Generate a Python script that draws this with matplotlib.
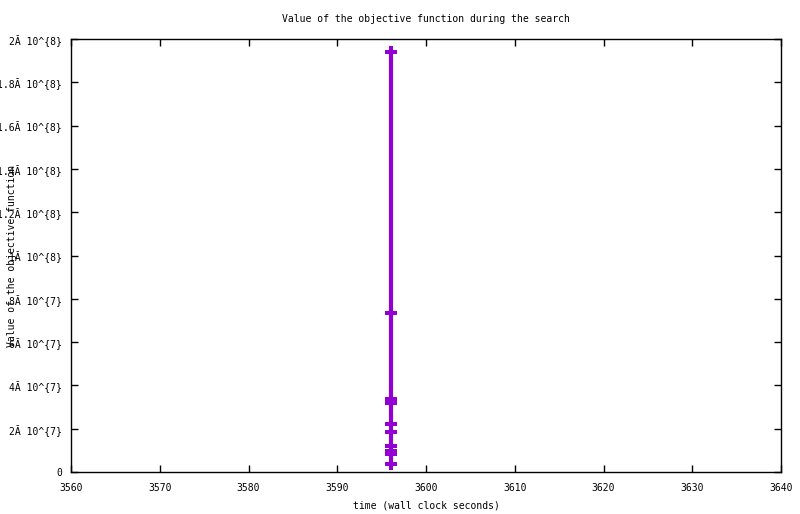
import matplotlib
matplotlib.use("Agg")
import matplotlib.pyplot as plt
from matplotlib.ticker import FixedLocator, FixedFormatter

# Data (time in wall clock seconds, objective value)
times = [3596.1, 3596.1, 3596.1, 3596.1, 3596.1, 3596.1, 3596.1, 3596.1, 3596.1, 3596.1]
values = [1.94e8, 7.34e7, 3.37e7, 3.19e7, 2.22e7, 1.85e7, 1.20e7, 9.7e6, 8.3e6, 3.7e6]

x_ticks = [3560, 3570, 3580, 3590, 3600, 3610, 3620, 3630, 3640]
y_ticks = [0, 2e7, 4e7, 6e7, 8e7, 1e8, 1.2e8, 1.4e8, 1.6e8, 1.8e8, 2e8]
y_tick_labels = ["0", "2Ă 10^{7}", "4Ă 10^{7}", "6Ă 10^{7}", "8Ă 10^{7}",
                 "1Ă 10^{8}", "1.2Ă 10^{8}", "1.4Ă 10^{8}", "1.6Ă 10^{8}",
                 "1.8Ă 10^{8}", "2Ă 10^{8}"]

title = "Value of the objective function during the search"
xlabel = "time (wall clock seconds)"
ylabel = "Value of the objective function"

plt.rcParams['font.family'] = ['DejaVu Sans Mono', 'DejaVu Sans']
FS = 7

fig = plt.figure(figsize=(8.0, 5.14), dpi=100)
ax = fig.add_axes([71/800, 1-472/514, 710/800, 433/514])

color = "#9400d3"
ax.plot(times, values, color=color, linewidth=3, marker="P", markersize=8,
        markeredgewidth=0, solid_capstyle="butt")

ax.set_xlim(3560, 3640)
ax.set_ylim(0, 2e8)
ax.xaxis.set_major_locator(FixedLocator(x_ticks))
ax.set_xticklabels([str(t) for t in x_ticks], fontsize=FS)
ax.yaxis.set_major_locator(FixedLocator(y_ticks))
ax.yaxis.set_major_formatter(FixedFormatter(y_tick_labels))
for lab in ax.get_yticklabels():
    lab.set_fontsize(FS)

ax.tick_params(axis="both", direction="in", length=5, width=1,
               top=True, right=True, colors="black")
ax.tick_params(axis="x", pad=8)
ax.tick_params(axis="y", pad=6.5)
for sp in ax.spines.values():
    sp.set_linewidth(1)
    sp.set_color("black")

fig.text(426/800, 1-19/514, title, ha="center", va="center", fontsize=FS)
fig.text(426/800, 1-505/514, xlabel, ha="center", va="center", fontsize=FS)
fig.text(12/800, 1-256/514, ylabel, ha="center", va="center", rotation=90, fontsize=FS)

fig.savefig("out.png", dpi=100)
